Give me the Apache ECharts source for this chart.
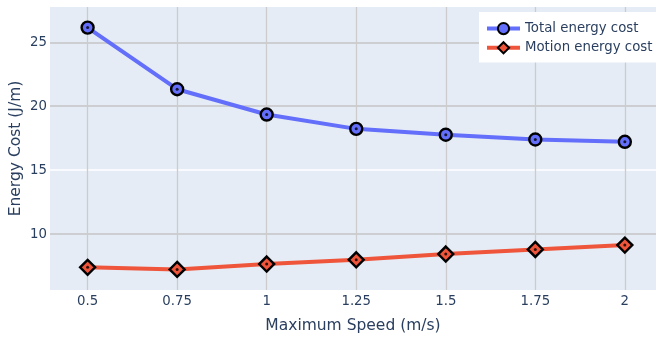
<!DOCTYPE html>
<html>
<head>
<meta charset="utf-8">
<script src="https://cdn.jsdelivr.net/npm/echarts@6/dist/echarts.min.js"></script>
<style>
html, body { margin: 0; padding: 0; background: #fff; }
#main { width: 656px; height: 341px; }
</style>
</head>
<body>
<div id="main"></div>
<script>
// speeds (m/s)
var speeds = [0.5, 0.75, 1, 1.25, 1.5, 1.75, 2];
var totalCost = [26.15, 21.33, 19.35, 18.23, 17.77, 17.4, 17.22];
var motionCost = [7.4, 7.24, 7.66, 7.99, 8.44, 8.8, 9.14];
var xTicks = [0.5, 0.75, 1, 1.25, 1.5, 1.75, 2];
var yTicks = [10, 15, 20, 25];

var font = 'DejaVu Sans';
var textColor = '#2a3f5f';

function pairs(xs, ys) {
	return xs.map(function(x, i) { return [x, ys[i]]; });
}

var chart = echarts.init(document.getElementById('main'));
var option = {
	backgroundColor: '#fff',
	animation: false,
	textStyle: { fontFamily: font },
	grid: {
		left: 50,
		right: 0,
		top: 7,
		bottom: 51,
		outerBoundsMode: 'none',
		containLabel: false,
		show: true,
		backgroundColor: '#E5ECF6',
		borderWidth: 0
	},
	legend: {
		data: ['Total energy cost', 'Motion energy cost'],
		orient: 'vertical',
		left: 479,
		top: 12,
		backgroundColor: '#fff',
		padding: [10, 20, 8, 6],
		itemWidth: 33,
		itemHeight: 14,
		itemGap: 6,
		lineStyle: { width: 4 },
		textStyle: { fontFamily: font, fontSize: 13.3, color: textColor }
	},
	xAxis: {
		type: 'value',
		min: 0.395,
		max: 2.087,
		name: 'Maximum Speed (m/s)',
		nameLocation: 'middle',
		nameGap: 28,
		nameMoveOverlap: false,
		nameTextStyle: { fontFamily: font, fontSize: 15.5, color: textColor },
		axisLine: { show: false },
		axisTick: { show: false, customValues: xTicks },
		axisLabel: {
			customValues: xTicks,
			fontFamily: font, fontSize: 13.3, color: textColor, margin: 5
		},
		splitLine: { show: true, lineStyle: { color: '#cccccc', width: 1.3 } }
	},
	yAxis: {
		type: 'value',
		min: 5.63,
		max: 27.76,
		name: 'Energy Cost (J/m)',
		nameLocation: 'middle',
		nameGap: 26,
		nameMoveOverlap: false,
		nameTextStyle: { fontFamily: font, fontSize: 15.5, color: textColor },
		axisLine: { show: false },
		axisTick: { show: false, customValues: yTicks },
		axisLabel: {
			customValues: yTicks,
			fontFamily: font, fontSize: 13.3, color: textColor, margin: 3
		},
		splitLine: {
			show: true,
			lineStyle: { color: ['#c4c4c4', '#ffffff', '#c4c4c4', '#c4c4c4'], width: 1.6 }
		}
	},
	series: [
		{
			name: 'Total energy cost',
			type: 'line',
			data: pairs(speeds, totalCost),
			symbol: 'circle',
			symbolSize: 12,
			lineStyle: { color: '#636efa', width: 4 },
			itemStyle: { color: '#636efa', borderColor: '#000', borderWidth: 2.4 },
			z: 3
		},
		{
			name: 'Motion energy cost',
			type: 'line',
			data: pairs(speeds, motionCost),
			symbol: 'diamond',
			symbolSize: 15,
			lineStyle: { color: '#EF553B', width: 4 },
			itemStyle: { color: '#EF553B', borderColor: '#000', borderWidth: 2.4 },
			z: 3
		},
		{
			name: 'dots',
			type: 'scatter',
			data: pairs(speeds, totalCost).concat(pairs(speeds, motionCost)),
			symbol: 'circle',
			symbolSize: 3,
			itemStyle: { color: '#000' },
			silent: true,
			z: 5
		}
	]
};
chart.setOption(option);
</script>
</body>
</html>
